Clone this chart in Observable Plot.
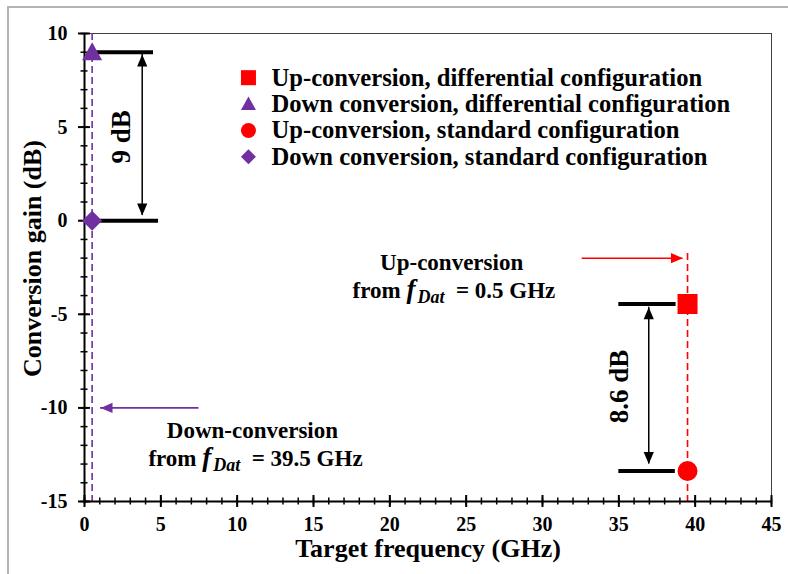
<!DOCTYPE html>
<html>
<head>
<meta charset="utf-8">
<script src="https://cdn.jsdelivr.net/npm/d3@7"></script>
<script src="https://cdn.jsdelivr.net/npm/@observablehq/plot@0.6"></script>
<style>
  html, body { margin: 0; padding: 0; background: #fff; }
  #wrap { position: relative; width: 788px; height: 574px; overflow: hidden; }
  #frame { position: absolute; left: 7px; top: 6px; width: 820px; height: 620px;
           border-left: 2px solid #b4b4b4; border-top: 2px solid #b4b4b4; pointer-events: none; }
</style>
</head>
<body>
<div id="wrap"><div id="frame"></div></div>
<script>
// ---- data ----
const seriesNames = [
  "Up-conversion, differential configuration",
  "Down conversion, differential configuration",
  "Up-conversion, standard configuration",
  "Down conversion, standard configuration"
];
const frequency = [39.5, 0.5, 39.5, 0.5];      // GHz
const gain = [-4.45, 9, -13.37, 0];            // dB
const seriesColors = ["#FF0000", "#7030A0", "#FF0000", "#7030A0"];
const seriesSymbols = ["square", "triangle", "circle", "diamond"];
const xTicks = [0, 5, 10, 15, 20, 25, 30, 35, 40, 45];
const yTicks = [-15, -10, -5, 0, 5, 10];
const xMinor = d3.range(0, 46, 1);
const yMinor = d3.range(-15, 11, 1);
const diffLabels = ["9 dB", "8.6 dB"];
const noteTexts = ["Up-conversion", "from f_Dat = 0.5 GHz", "Down-conversion", "from f_Dat = 39.5 GHz"];

// ---- symbols ----
const rOf = s => Math.sqrt(s / Math.PI);
const SYM = {
  square: { draw(c, s) { const r = rOf(s); c.rect(-r, -r, 2 * r, 2 * r); } },
  circle: { draw(c, s) { const r = rOf(s); c.moveTo(r, 0); c.arc(0, 0, r, 0, 2 * Math.PI); } },
  triangle: { draw(c, s) { const r = rOf(s); c.moveTo(0, -r); c.lineTo(r, 0.8 * r); c.lineTo(-r, 0.8 * r); c.closePath(); } },
  diamond: { draw(c, s) { const r = rOf(s); c.moveTo(0, -r); c.lineTo(r, 0); c.lineTo(0, r); c.lineTo(-r, 0); c.closePath(); } }
};
const HEAD = { draw(c, s) { const r = rOf(s); c.moveTo(0, 0); c.lineTo(-0.85 * r, 2 * r); c.lineTo(0.85 * r, 2 * r); c.closePath(); } };

const points = seriesNames.map((n, i) => ({ name: n, x: frequency[i], y: gain[i], color: seriesColors[i], sym: seriesSymbols[i] }));
const legend = seriesNames.map((n, i) => ({ name: n, color: seriesColors[i], sym: seriesSymbols[i], x: 10.74, tx: 12.25, y: 7.64 - i * 1.41 }));

// annotation geometry
const levelLines = [
  { y: gain[1], x1: 0.72, x2: 4.52 },
  { y: gain[3], x1: 1.05, x2: 4.85 },
  { y: gain[0], x1: 35.0, x2: 38.75 },
  { y: gain[2], x1: 35.0, x2: 38.7 }
];
const doubleArrows = [
  { x: 3.78, yTop: 8.88, yBot: 0.28 },
  { x: 36.96, yTop: -4.62, yBot: -13.0 }
];
const diffText = [
  { text: diffLabels[0], x: 2.42, y: 4.48 },
  { text: diffLabels[1], x: 35.04, y: -8.86 }
];
const notes = [
  { text: noteTexts[0], x: 24.05, y: -2.25 },
  { text: noteTexts[1], x: 24.2, y: -3.75 },
  { text: noteTexts[2], x: 11.0, y: -11.2 },
  { text: noteTexts[3], x: 11.2, y: -12.7 }
];
const redArrow = [{ x1: 32.6, x2: 39.2, y: -2.0 }];
const purpleArrow = [{ x1: 7.5, x2: 1.05, y: -10.0 }];
const guideLines = [
  { x: frequency[1], y1: 10, y2: -15, color: "#7030A0" },
  { x: frequency[0], y1: -1.75, y2: -15, color: "#FF0000" }
];

const FONT = "'Liberation Serif', 'Times New Roman', serif";

const chart = Plot.plot({
  width: 788,
  height: 574,
  marginLeft: 84,
  marginRight: 17,
  marginTop: 33,
  marginBottom: 73,
  style: { fontFamily: FONT, fontWeight: "bold", fontSize: "20px", color: "#000", background: "transparent", overflow: "visible" },
  x: { domain: [0, 45], axis: null },
  y: { domain: [-15, 10], axis: null },
  marks: [
    // frame
    Plot.ruleY([10], { stroke: "#404040", strokeWidth: 1 }),
    Plot.ruleX([45], { stroke: "#404040", strokeWidth: 1 }),
    // guide dashed lines
    Plot.ruleX(guideLines, { x: "x", y1: "y1", y2: "y2", stroke: "color", strokeWidth: 1.6, strokeDasharray: "7,4" }),
    // axes lines
    Plot.ruleY([-15], { stroke: "#000", strokeWidth: 2 }),
    Plot.ruleX([0], { stroke: "#000", strokeWidth: 2 }),
    // minor ticks
    Plot.ruleX(xMinor, { x: d => d, y1: -15, y2: -15, insetTop: -3.5, insetBottom: -3.5, stroke: "#000", strokeWidth: 1.5 }),
    Plot.ruleY(yMinor, { y: d => d, x1: 0, x2: 0, insetLeft: -3.5, insetRight: -3.5, stroke: "#000", strokeWidth: 1.5 }),
    // major ticks
    Plot.ruleX(xTicks, { x: d => d, y1: -15, y2: -15, insetTop: -6, insetBottom: -6, stroke: "#000", strokeWidth: 2 }),
    Plot.ruleY(yTicks, { y: d => d, x1: 0, x2: 0, insetLeft: -6, insetRight: -6, stroke: "#000", strokeWidth: 2 }),
    // tick labels (through the x/y scales)
    Plot.text(xTicks, { x: d => d, y: () => -15, text: d => String(d), dy: 23, fontSize: 20, fontWeight: "bold", fill: "#000" }),
    Plot.text(yTicks, { x: () => 0, y: d => d, text: d => String(d), textAnchor: "end", dx: -17, fontSize: 20, fontWeight: "bold", fill: "#000" }),
    // axis titles
    Plot.text(["Target frequency (GHz)"], { frameAnchor: "bottom", dy: 55, fontSize: 26, fontWeight: "bold", fill: "#000" }),
    Plot.text(["Conversion gain (dB)"], { frameAnchor: "left", textAnchor: "middle", dx: -52, dy: -9, rotate: -90, fontSize: 26, fontWeight: "bold", fill: "#000" }),
    // level lines
    Plot.ruleY(levelLines, { y: "y", x1: "x1", x2: "x2", stroke: "#000", strokeWidth: 4 }),
    // double arrows
    Plot.ruleX(doubleArrows, { x: "x", y1: "yTop", y2: "yBot", stroke: "#000", strokeWidth: 1.5 }),
    Plot.dot(doubleArrows, { x: "x", y: "yTop", symbol: HEAD, r: 6, fill: "#000", stroke: "none" }),
    Plot.dot(doubleArrows, { x: "x", y: "yBot", symbol: HEAD, r: 6, rotate: 180, fill: "#000", stroke: "none" }),
    Plot.text(diffText, { x: "x", y: "y", text: "text", rotate: -90, fontSize: 27, fontWeight: "bold", fill: "#000" }),
    // red arrow
    Plot.ruleY(redArrow, { y: "y", x1: "x1", x2: "x2", stroke: "#FF0000", strokeWidth: 1.5 }),
    Plot.dot(redArrow, { x: "x2", y: "y", symbol: HEAD, r: 6, rotate: 90, fill: "#FF0000", stroke: "none" }),
    // purple arrow
    Plot.ruleY(purpleArrow, { y: "y", x1: "x1", x2: "x2", stroke: "#7030A0", strokeWidth: 1.8 }),
    Plot.dot(purpleArrow, { x: "x2", y: "y", symbol: HEAD, r: 6, rotate: -90, fill: "#7030A0", stroke: "none" }),
    // notes
    Plot.text(notes, { x: "x", y: "y", text: "text", fontSize: 23, fontWeight: "bold", fill: "#000" }),
    // data points
    ...points.map(p => Plot.dot([p], { x: "x", y: "y", symbol: SYM[p.sym], r: 10, fill: "color", stroke: "none" })),
    // legend
    ...legend.map(p => Plot.dot([p], { x: "x", y: "y", symbol: SYM[p.sym], r: 7.5, fill: "color", stroke: "none" })),
    Plot.text(legend, { x: "tx", y: "y", text: "name", textAnchor: "start", fontSize: 24.6, fontWeight: "bold", fill: "#000" })
  ]
});

// render f_Dat with math-style italic f and subscript
d3.select(chart).selectAll("text").each(function () {
  const t = this.textContent;
  if (!t.includes("f_Dat")) return;
  const [pre, post] = t.split("f_Dat");
  const el = d3.select(this);
  el.text(null);
  el.append("tspan").text(pre);
  el.append("tspan").attr("font-style", "italic").attr("font-size", 27).text("f");
  el.append("tspan").attr("font-style", "italic").attr("font-size", 18).attr("dx", 2).attr("dy", 5).text("Dat");
  el.append("tspan").attr("dy", -5).text("\u2002" + post.trim());
});

document.getElementById("wrap").insertBefore(chart, document.getElementById("frame"));
</script>
</body>
</html>
